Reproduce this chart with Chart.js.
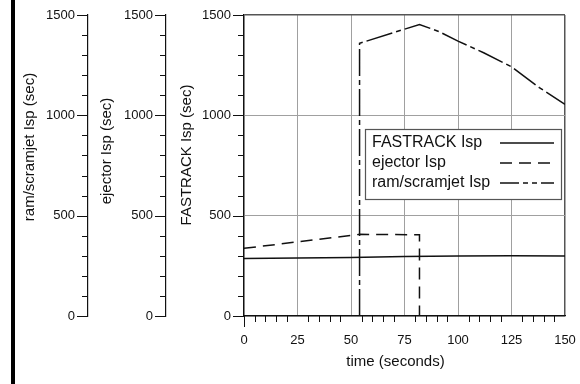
<!DOCTYPE html>
<html>
<head>
<meta charset="utf-8">
<script src="https://cdn.jsdelivr.net/npm/chart.js@4.4.0/dist/chart.umd.min.js"></script>
<style>
  body { margin: 0; background: #fff; }
  .wrap { position: relative; width: 580px; height: 384px; }
  .bar { position: absolute; left: 11px; top: 0; width: 4px; height: 384px; background: #000; }
  canvas { position: absolute; left: 0; top: 0; }
</style>
</head>
<body>
<div class="wrap">
  <canvas id="isp" width="580" height="384"></canvas>
  <div class="bar"></div>
</div>
<script>
// values (time in seconds, Isp in seconds)
const fastrack_t   = [0, 25, 50, 75, 100, 125, 150];
const fastrack_isp = [287, 289, 292, 296, 299, 300, 299];

const ejector_t   = [0, 54, 82, 82];
const ejector_isp = [337, 407, 405, 0];

const ramjet_t   = [54, 54, 82, 91, 100, 112, 125, 138, 150];
const ramjet_isp = [0, 1359, 1453, 1418, 1370, 1312, 1242, 1138, 1055];

const series_names = ['FASTRACK Isp', 'ejector Isp', 'ram/scramjet Isp'];
const axis_titles = ['ram/scramjet Isp (sec)', 'ejector Isp (sec)', 'FASTRACK Isp (sec)', 'time (seconds)'];

const FONT = "'Liberation Sans', Arial, Helvetica, sans-serif";
const INK = '#111';
const NONE = 'rgba(0,0,0,0)';

function toPoints(xs, ys) {
    return xs.map((x, i) => ({x: x, y: ys[i]}));
}

// little ticks every 100 sec on the y axes, every 5 s on the time axis
const tickMarks = {
    id: 'tickMarks',
    afterDraw(chart) {
        const ctx = chart.ctx;
        ctx.save();
        ctx.strokeStyle = INK;
        ctx.lineWidth = 1;
        ['yRam', 'yEjector', 'yFast'].forEach(id => {
            const s = chart.scales[id];
            for (let v = 0; v <= 1500; v += 100) {
                const y = Math.round(s.getPixelForValue(v)) + 0.5;
                const len = v % 500 === 0 ? 11 : 6;
                ctx.beginPath();
                ctx.moveTo(s.right - len, y);
                ctx.lineTo(s.right, y);
                ctx.stroke();
            }
        });
        const sx = chart.scales.x;
        for (let v = 0; v < 150; v += 5) {
            if (v % 25 === 0 && v !== 0) continue;
            const x = Math.round(sx.getPixelForValue(v)) + 0.5;
            const len = v === 0 ? 11 : 6;
            ctx.beginPath();
            ctx.moveTo(x, sx.top);
            ctx.lineTo(x, sx.top + len);
            ctx.stroke();
        }
        ctx.restore();
    }
};

// axis titles, placed by hand like the original
const titles = {
    id: 'titles',
    afterDraw(chart) {
        const ctx = chart.ctx;
        const a = chart.chartArea;
        ctx.save();
        ctx.fillStyle = INK;
        ctx.font = '15px ' + FONT;
        ctx.textAlign = 'center';
        ctx.textBaseline = 'middle';
        const spots = [
            [chart.scales.yRam.left + 15, 147],
            [chart.scales.yEjector.left + 19, 151],
            [chart.scales.yFast.left + 21, 155]
        ];
        spots.forEach((p, i) => {
            ctx.save();
            ctx.translate(p[0], p[1]);
            ctx.rotate(-Math.PI / 2);
            ctx.fillText(axis_titles[i], 0, 0);
            ctx.restore();
        });
        ctx.fillText(axis_titles[3], (a.left + a.right) / 2 - 9, 362);
        ctx.restore();
    }
};

// boxed legend: name on the left, line sample on the right
const boxLegend = {
    id: 'boxLegend',
    afterDatasetsDraw(chart) {
        const ctx = chart.ctx;
        const bx = 365, by = 129, bw = 196, bh = 70;
        ctx.save();
        ctx.fillStyle = '#fff';
        ctx.fillRect(bx, by, bw, bh);
        ctx.strokeStyle = '#555';
        ctx.lineWidth = 1.2;
        ctx.strokeRect(bx + 0.5, by + 0.5, bw, bh);
        ctx.font = '16px ' + FONT;
        ctx.textBaseline = 'middle';
        ctx.fillStyle = INK;
        chart.data.datasets.forEach((ds, i) => {
            const y = by + 14 + i * 20;
            ctx.fillText(ds.label, bx + 7, y);
            ctx.beginPath();
            ctx.setLineDash(i === 2 ? [19, 4, 5, 4, 5, 4] : (ds.borderDash || []));
            ctx.strokeStyle = ds.borderColor;
            ctx.lineWidth = ds.borderWidth;
            ctx.moveTo(bx + 135, y);
            ctx.lineTo(bx + 189, y);
            ctx.stroke();
        });
        ctx.restore();
    }
};

function yAxis(weight, width, withGrid) {
    return {
        type: 'linear',
        position: 'left',
        weight: weight,
        min: 0,
        max: 1500,
        ticks: {
            stepSize: 500,
            padding: 2,
            color: INK,
            font: {family: FONT, size: 13},
            callback: v => String(v)
        },
        grid: withGrid ? {
            tickLength: 11,
            tickColor: NONE,
            color: c => c.tick && c.tick.value === 1500 ? '#555' : '#a0a0a0',
            lineWidth: c => c.tick && c.tick.value === 1500 ? 1.5 : 1
        } : {drawOnChartArea: false, tickLength: 11, tickColor: NONE},
        border: {color: INK, width: 1.2},
        afterFit: s => { s.width = width; }
    };
}

const ctx = document.querySelector('#isp').getContext('2d');

new Chart(ctx, {
    type: 'scatter',
    data: {
        datasets: [
            {
                label: series_names[0],
                data: toPoints(fastrack_t, fastrack_isp),
                yAxisID: 'yFast',
                showLine: true,
                borderColor: INK,
                borderWidth: 1.5,
                borderDash: []
            },
            {
                label: series_names[1],
                data: toPoints(ejector_t, ejector_isp),
                yAxisID: 'yEjector',
                showLine: true,
                borderColor: INK,
                borderWidth: 1.5,
                borderDash: [12, 7]
            },
            {
                label: series_names[2],
                data: toPoints(ramjet_t, ramjet_isp),
                yAxisID: 'yRam',
                showLine: true,
                borderColor: INK,
                borderWidth: 1.5,
                borderDash: [27, 4, 5, 4]
            }
        ]
    },
    options: {
        responsive: false,
        animation: false,
        layout: {padding: {left: 15, top: 15, right: 15, bottom: 0}},
        elements: {point: {radius: 0}, line: {tension: 0}},
        plugins: {legend: {display: false}, tooltip: {enabled: false}},
        scales: {
            x: {
                type: 'linear',
                position: 'bottom',
                min: 0,
                max: 150,
                ticks: {
                    stepSize: 25,
                    padding: 2,
                    color: INK,
                    font: {family: FONT, size: 13},
                    callback: v => String(v)
                },
                grid: {
                    tickLength: 15,
                    tickColor: NONE,
                    color: c => c.tick && c.tick.value === 150 ? '#555' : '#a0a0a0',
                    lineWidth: c => c.tick && c.tick.value === 150 ? 1.5 : 1
                },
                border: {color: INK, width: 1.2},
                afterFit: s => { s.height = 68; }
            },
            yFast: yAxis(1, 78, true),
            yEjector: yAxis(2, 78, false),
            yRam: yAxis(3, 73, false)
        }
    },
    plugins: [tickMarks, titles, boxLegend]
});
</script>
</body>
</html>
